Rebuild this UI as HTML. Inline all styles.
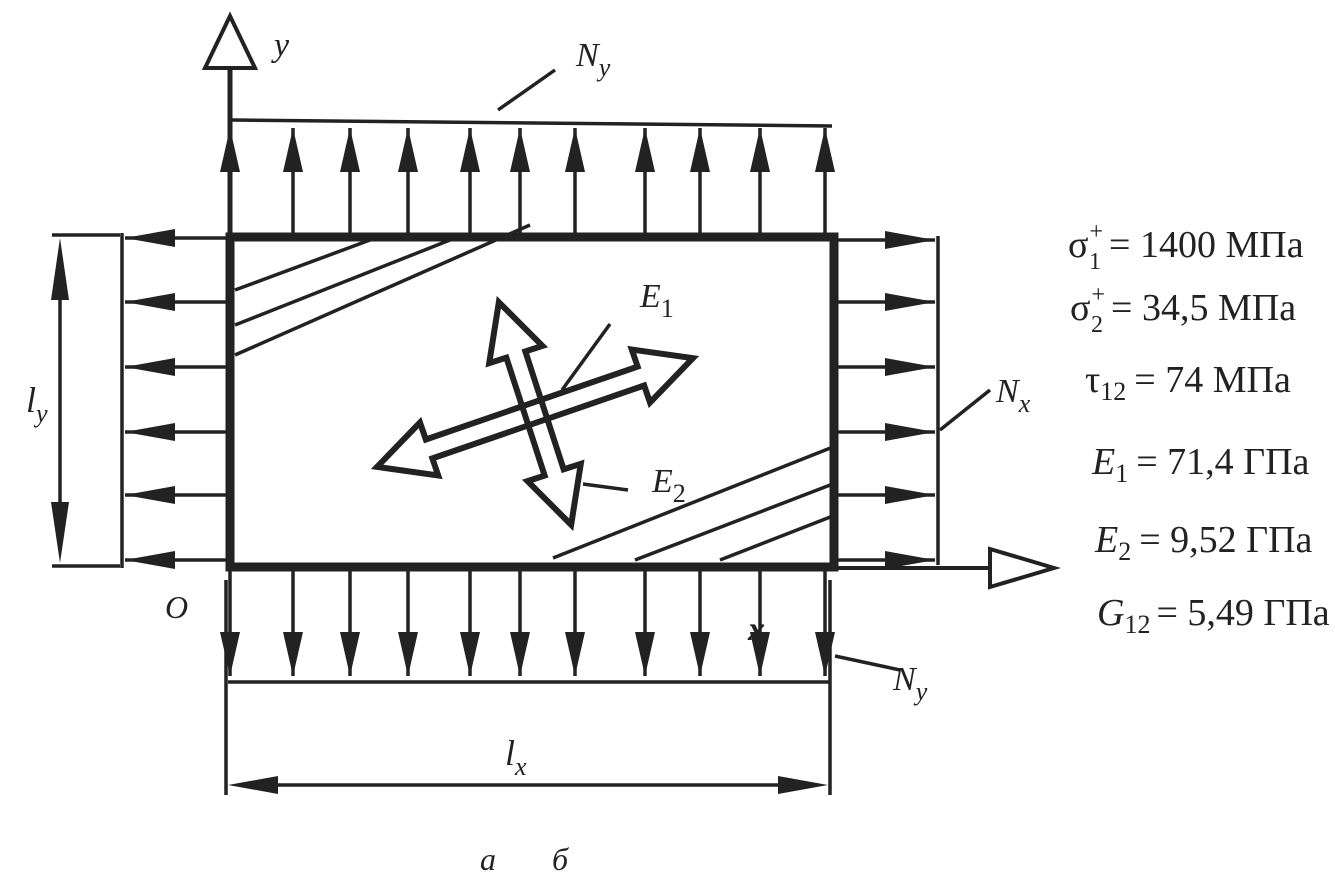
<!DOCTYPE html>
<html><head><meta charset="utf-8"><style>
html,body{margin:0;padding:0;background:#fff;}
svg{display:block;}
text{font-family:"Liberation Serif",serif;fill:#222;}
.i{font-style:italic;}
</style></head><body>
<svg width="1335" height="873" viewBox="0 0 1335 873" xmlns="http://www.w3.org/2000/svg">
<defs>
<marker id="a" viewBox="0 0 44 20" markerWidth="44" markerHeight="20" refX="44" refY="10" orient="auto" markerUnits="userSpaceOnUse">
<polygon points="0,0 44,10 0,20" fill="#222"/></marker>
<marker id="d" viewBox="0 0 50 18" markerWidth="50" markerHeight="18" refX="50" refY="9" orient="auto" markerUnits="userSpaceOnUse">
<polygon points="0,0 50,9 0,18" fill="#222"/></marker>
</defs>
<g stroke="#222" stroke-width="3.5" fill="none">
<line x1="230" y1="568" x2="230" y2="68" stroke-width="5"/>
<polygon points="205,68 255,68 230,16" fill="#fff" stroke-width="4"/>
<line x1="835" y1="568" x2="990" y2="568" stroke-width="4"/>
<polygon points="990,549 990,587 1054,568" fill="#fff" stroke-width="4"/>
<g marker-end="url(#a)">
<line x1="293" y1="236" x2="293" y2="128"/><line x1="350" y1="236" x2="350" y2="128"/>
<line x1="408" y1="236" x2="408" y2="128"/><line x1="470" y1="236" x2="470" y2="128"/>
<line x1="520" y1="236" x2="520" y2="128"/><line x1="575" y1="236" x2="575" y2="128"/>
<line x1="645" y1="236" x2="645" y2="128"/><line x1="700" y1="236" x2="700" y2="128"/>
<line x1="760" y1="236" x2="760" y2="128"/><line x1="825" y1="236" x2="825" y2="128"/>
<line x1="230" y1="236" x2="230" y2="128"/>
</g>
<line x1="232" y1="120" x2="832" y2="126"/>
<g marker-end="url(#a)">
<line x1="230" y1="568" x2="230" y2="676"/><line x1="293" y1="568" x2="293" y2="676"/>
<line x1="350" y1="568" x2="350" y2="676"/><line x1="408" y1="568" x2="408" y2="676"/>
<line x1="470" y1="568" x2="470" y2="676"/><line x1="520" y1="568" x2="520" y2="676"/>
<line x1="575" y1="568" x2="575" y2="676"/><line x1="645" y1="568" x2="645" y2="676"/>
<line x1="700" y1="568" x2="700" y2="676"/><line x1="760" y1="568" x2="760" y2="676"/>
<line x1="825" y1="568" x2="825" y2="676"/>
</g>
<line x1="228" y1="682" x2="830" y2="682"/>
<g marker-end="url(#d)">
<line x1="228" y1="238" x2="125" y2="238"/><line x1="228" y1="302" x2="125" y2="302"/>
<line x1="228" y1="367" x2="125" y2="367"/><line x1="228" y1="432" x2="125" y2="432"/>
<line x1="228" y1="495" x2="125" y2="495"/><line x1="228" y1="560" x2="125" y2="560"/>
</g>
<line x1="122" y1="233" x2="122" y2="568"/>
<g marker-end="url(#d)">
<line x1="835" y1="240" x2="935" y2="240"/><line x1="835" y1="302" x2="935" y2="302"/>
<line x1="835" y1="367" x2="935" y2="367"/><line x1="835" y1="432" x2="935" y2="432"/>
<line x1="835" y1="495" x2="935" y2="495"/><line x1="835" y1="560" x2="935" y2="560"/>
</g>
<line x1="938" y1="236" x2="938" y2="565"/>
<line x1="52" y1="235" x2="120" y2="235"/><line x1="52" y1="566" x2="120" y2="566"/>
<line x1="60" y1="300" x2="60" y2="502"/>
<polygon points="60,238 51,300 69,300" fill="#222" stroke="none"/>
<polygon points="60,563 51,502 69,502" fill="#222" stroke="none"/>
<line x1="226" y1="580" x2="226" y2="795"/><line x1="830" y1="580" x2="830" y2="795"/>
<line x1="278" y1="785" x2="778" y2="785"/>
<polygon points="228,785 278,776 278,794" fill="#222" stroke="none"/>
<polygon points="828,785 778,776 778,794" fill="#222" stroke="none"/>
<line x1="235" y1="290" x2="370" y2="240"/>
<line x1="235" y1="325" x2="450" y2="240"/>
<line x1="235" y1="355" x2="530" y2="225"/>
<line x1="553" y1="558" x2="838" y2="445"/>
<line x1="635" y1="560" x2="838" y2="482"/>
<line x1="720" y1="560" x2="838" y2="514"/>
<rect x="230" y="237" width="604" height="330" stroke-width="9"/>
<line x1="498" y1="110" x2="555" y2="70"/>
<line x1="940" y1="430" x2="990" y2="390"/>
<line x1="835" y1="656" x2="900" y2="670"/>
<line x1="610" y1="324" x2="562" y2="390"/>
<line x1="583" y1="484" x2="628" y2="490"/>
<g stroke-width="6" stroke-linejoin="miter">
<polygon transform="translate(535,412.5) rotate(-19)" points="-167,0 -112,-28 -112,-10 112,-10 112,-28 167,0 112,28 112,10 -112,10 -112,28"/>
<polygon transform="translate(535,413.5) rotate(72)" points="-117,0 -62,-28 -62,-10 62,-10 62,-28 117,0 62,28 62,10 -62,10 -62,28"/>
</g>
</g>
<text x="274" y="56" font-size="34" class="i">y</text>
<text x="576" y="66" font-size="34" class="i">N<tspan font-size="26" dy="10">y</tspan></text>
<text x="996" y="402" font-size="34" class="i">N<tspan font-size="26" dy="10">x</tspan></text>
<text x="893" y="690" font-size="34" class="i">N<tspan font-size="26" dy="10">y</tspan></text>
<text x="640" y="307" font-size="34" class="i">E<tspan font-size="26" dy="10" font-style="normal">1</tspan></text>
<text x="652" y="492" font-size="34" class="i">E<tspan font-size="26" dy="10" font-style="normal">2</tspan></text>
<text x="165" y="618" font-size="32" class="i">O</text>
<text x="748" y="640" font-size="34" class="i" font-weight="bold">x</text>
<text x="26" y="412" font-size="36" class="i">l<tspan font-size="26" dy="10">y</tspan></text>
<text x="505" y="765" font-size="36" class="i">l<tspan font-size="26" dy="10">x</tspan></text>
<text x="480" y="870" font-size="32" class="i">а</text>
<text x="552" y="870" font-size="32" class="i">б</text>
<g font-size="38">
<text x="1068" y="257">σ<tspan font-size="24" dx="1" dy="-18">+</tspan><tspan font-size="24" dx="-14" dy="30">1</tspan><tspan dx="8" dy="-12">= 1400 МПа</tspan></text>
<text x="1070" y="320">σ<tspan font-size="24" dx="1" dy="-18">+</tspan><tspan font-size="24" dx="-14" dy="30">2</tspan><tspan dx="8" dy="-12">= 34,5 МПа</tspan></text>
<text x="1085" y="392">τ<tspan font-size="26" dy="8">12</tspan><tspan dx="8" dy="-8">= 74 МПа</tspan></text>
<text x="1092" y="474"><tspan class="i">E</tspan><tspan font-size="26" dy="8">1</tspan><tspan dx="8" dy="-8">= 71,4 ГПа</tspan></text>
<text x="1095" y="552"><tspan class="i">E</tspan><tspan font-size="26" dy="8">2</tspan><tspan dx="8" dy="-8">= 9,52 ГПа</tspan></text>
<text x="1097" y="625"><tspan class="i">G</tspan><tspan font-size="26" dy="8">12</tspan><tspan dx="6" dy="-8">= 5,49 ГПа</tspan></text>
</g>
</svg>
</body></html>
